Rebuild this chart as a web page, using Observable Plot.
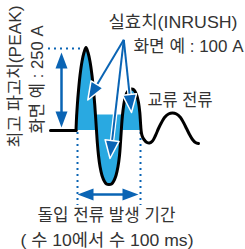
<!DOCTYPE html>
<html><head><meta charset="utf-8">
<script src="https://cdn.jsdelivr.net/npm/d3@7"></script>
<script src="https://cdn.jsdelivr.net/npm/@observablehq/plot@0.6"></script>
<style>body{margin:0;background:#fff}svg{display:block}</style>
</head><body><div id="chart"></div>
<script>
// time axis (t) and current level (v, baseline = 0)
const leadT = [50, 75.5];
const leadV = [0, 0];
const inrushT = [75.5,76,76.8,78,79.5,81.5,83.5,85.5,87.5,89.5,91.5,93,94.3,95.2,96,
  96.8,98,99.5,101.5,104,106,108.5,111,113,115.5,117.5,119,120,120.8,
  121.5,122.5,124,126,128.5,131,133.5,136,138,139.3,140,140.6];
const inrushV = [0,12,25,40,55,69,78,83,78,69,55,40,25,12,0,
  -12,-25,-36,-45,-51,-53.5,-54,-53.5,-51,-45,-36,-25,-12,0,
  10,20,30,37,40.5,41.5,40.5,36,28,18,8,0];
const acT = [140.6,141.5,143.5,146.5,149,152,155,158,161,164,168,172,176,180,183,186,189,192,195,198];
const acV = [0,-5,-9,-12,-12.5,-10.5,-5,2,8,13,16.5,17.5,16.5,13,8,2,-4,-9,-12,-13];
const rmsBand = {t1: 75.5, t2: 140.6, v1: 0, v2: 15.5};
const peakLevel = 82, peakGuideT = [48, 82];
const periodT = [77, 140], periodGuideV = [-2, -75];
const peakArrow = {t: 61, v1: 78, v2: 3};
const periodArrow = {v: -64, t1: 77, t2: 138};
const calloutFrom = {t: 123.3, v: 90.7};
const calloutTo = [{t: 87.3, v: 30.5}, {t: 131, v: 18}, {t: 109.5, v: -28}];
const labelText = ["실효치(INRUSH)", "화면 예 : 100 A", "교류 전류", "돌입 전류 발생 기간", "( 수 10에서 수 100 ms)"];
const labelT = [172.5, 188, 179.5, 106, 106.5];
const labelV = [108, 84, 29.5, -85.5, -110];
const sideText = ["최고 파고치(PEAK)", "화면 예 : 250 A"];
const sideT = [15, 37.5];
const sideV = [54, 51];

// styling: rendered text widths (px) as in the picture
const textWidths = new Map([
  ["실효치(INRUSH)", 129], ["화면 예 : 100 A", 110], ["교류 전류", 65],
  ["돌입 전류 발생 기간", 138], ["( 수 10에서 수 100 ms)", 173],
  ["최고 파고치(PEAK)", 142], ["화면 예 : 250 A", 108]
]);

const W = 245, H = 249;
const xDomain = [0, 245], yDomain = [-119, 130];
const BLUE = "#29a9e1", DARK = "#0a64b4", INK = "#333";
const sx = d3.scaleLinear(xDomain, [0, W]), sy = d3.scaleLinear(yDomain, [H, 0]);

const zip = (T, V) => T.map((t, i) => ({t, v: V[i]}));
const inrush = zip(inrushT, inrushV);
const lead = zip(leadT, leadV);
const ac = zip(acT, acV);

function angle(a, b) { // degrees, clockwise from up, in pixel space
  return Math.atan2(sx(b.t) - sx(a.t), -(sy(b.v) - sy(a.v))) * 180 / Math.PI;
}
function shorten(a, b, px) { // move b toward a by px pixels
  const dx = sx(b.t) - sx(a.t), dy = sy(b.v) - sy(a.v), L = Math.hypot(dx, dy);
  return {t: sx.invert(sx(b.t) - dx / L * px), v: sy.invert(sy(b.v) - dy / L * px)};
}
const headShape = {draw(ctx, l, r) { ctx.moveTo(0, -l); ctx.lineTo(r, 0); ctx.lineTo(-r, 0); ctx.closePath(); }};

const callouts = calloutTo.map(tip => ({a: calloutFrom, b: shorten(calloutFrom, tip, 10), tip, rot: angle(calloutFrom, tip)}));
const pA = {t: peakArrow.t, v: peakArrow.v1}, pB = {t: peakArrow.t, v: peakArrow.v2};
const qA = {t: periodArrow.t1, v: periodArrow.v}, qB = {t: periodArrow.t2, v: periodArrow.v};
const dbl = [
  {a: shorten(pB, pA, 8), b: shorten(pA, pB, 8)},
  {a: shorten(qB, qA, 8), b: shorten(qA, qB, 8)}
];
const dblHeads = [
  {tip: pA, rot: angle(pB, pA)}, {tip: pB, rot: angle(pA, pB)},
  {tip: qA, rot: angle(qB, qA)}, {tip: qB, rot: angle(qA, qB)}
];

const chart = Plot.plot({
  width: W, height: H, margin: 0,
  x: {domain: xDomain, axis: null},
  y: {domain: yDomain, axis: null},
  style: {fontFamily: "'Liberation Sans', Arial, 'Noto Sans CJK KR', sans-serif", background: "#fff"},
  marks: [
    Plot.rect([rmsBand], {x1: "t1", x2: "t2", y1: "v1", y2: "v2", fill: BLUE}),
    Plot.areaY(inrush, {x: "t", y1: 0, y2: "v", fill: BLUE, curve: "catmull-rom"}),
    Plot.ruleY([peakLevel], {x1: peakGuideT[0], x2: peakGuideT[1], stroke: DARK, strokeWidth: 2, strokeDasharray: "2,4"}),
    Plot.ruleX(periodT, {y1: periodGuideV[0], y2: periodGuideV[1], stroke: DARK, strokeWidth: 2, strokeDasharray: "2,4"}),
    Plot.line(lead, {x: "t", y: "v", stroke: "#000", strokeWidth: 3}),
    Plot.line([...inrush, ...ac.slice(1)], {x: "t", y: "v", stroke: "#000", strokeWidth: 3, curve: "catmull-rom"}),
    Plot.link(dbl, {x1: d => d.a.t, y1: d => d.a.v, x2: d => d.b.t, y2: d => d.b.v, stroke: DARK, strokeWidth: 2.5}),
    Plot.vector(dblHeads, {x: d => d.tip.t, y: d => d.tip.v, rotate: "rot", length: 16, r: 6, anchor: "end", shape: headShape, fill: DARK, stroke: "none"}),
    Plot.link(callouts, {x1: d => d.a.t, y1: d => d.a.v, x2: d => d.b.t, y2: d => d.b.v, stroke: "#fff", strokeWidth: 4.5}),
    Plot.link(callouts, {x1: d => d.a.t, y1: d => d.a.v, x2: d => d.b.t, y2: d => d.b.v, stroke: DARK, strokeWidth: 2}),
    Plot.vector(callouts, {x: d => d.tip.t, y: d => d.tip.v, rotate: "rot", length: 18, r: 7, anchor: "end", shape: headShape, fill: DARK, stroke: "#fff", strokeWidth: 1.5}),
    Plot.text(labelText, {x: (d, i) => labelT[i], y: (d, i) => labelV[i], text: d => d, fontSize: 17, fill: INK}),
    Plot.text(sideText, {x: (d, i) => sideT[i], y: (d, i) => sideV[i], text: d => d, fontSize: 17, fill: INK, rotate: -90})
  ]
});
chart.querySelectorAll("text").forEach(el => {
  const w = textWidths.get(el.textContent);
  if (w) { el.setAttribute("textLength", w); el.setAttribute("lengthAdjust", "spacingAndGlyphs"); }
});
document.getElementById("chart").appendChild(chart);
</script>
</body></html>
